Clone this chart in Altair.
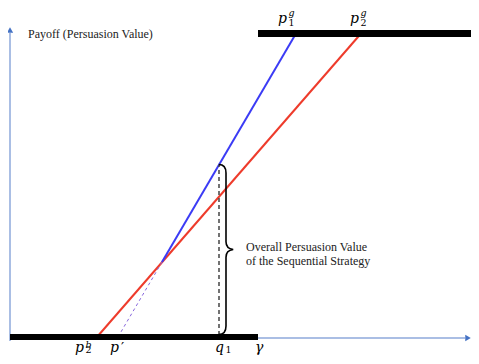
import altair as alt
import pandas as pd

# ---- data (x: gamma units from the vertical axis, y: payoff units from the bottom bar)
low_bar_x = [0, 248]
low_bar_y = [0, 0]
high_bar_x = [248, 462]
high_bar_y = [303.5, 303.5]
red_x = [87, 351]
red_y = [0, 303.5]
blue_x = [152, 286]
blue_y = [75, 303.5]
blue_dash_x = [108, 152]
blue_dash_y = [0, 75]
q1_x = [209, 209]
q1_y = [2, 172]
yaxis_x = [0, 0]
yaxis_y = [-4, 304]
xaxis_x = [0, 455]
xaxis_y = [-1, -1]
brace_x = [216]
brace_y = [87.5]

label_base = ["p", "p", "q", "γ", "p", "p"]
label_sub = ["2", "", "1", "", "1", "2"]
label_sup = ["b", "", "", "", "g", "g"]
label_x = [65, 100, 205, 245, 268, 340]
label_y = [-15, -15, -15, -15, 314, 314]
label_supdy = [-4, -4, -4, -4, -7, -7]
label_subdy = [1, 1, 1, 1, 3, 3]
prime_x = [111]
prime_y = [-15]

notes = ["Payoff (Persuasion Value)", "Overall Persuasion Value", "of the Sequential Strategy"]
notes_x = [18, 236, 236]
notes_y = [303, 90, 76]

W, H = 463, 348
xs = alt.Scale(domain=[-2, 461])
ys = alt.Scale(domain=[-19, 329])


def seg(xv, yv):
    return pd.DataFrame({"x": xv, "y": yv})


def enc(ch):
    return ch.encode(
        x=alt.X("x:Q", scale=xs, axis=None),
        y=alt.Y("y:Q", scale=ys, axis=None),
    )


yaxis = enc(alt.Chart(seg(yaxis_x, yaxis_y)).mark_line(color="#8EA9DB", strokeWidth=1.5))
xaxis = enc(alt.Chart(seg(xaxis_x, xaxis_y)).mark_line(color="#8EA9DB", strokeWidth=1.5))
yhead = enc(alt.Chart(seg([0], [307])).mark_point(shape="triangle-up", size=40, filled=True,
                                                  color="#4472C4", opacity=1))
xhead = enc(alt.Chart(seg([458], [-1])).mark_point(shape="triangle-right", size=40, filled=True,
                                                   color="#4472C4", opacity=1))

red = enc(alt.Chart(seg(red_x, red_y)).mark_line(color="#EE3B2B", strokeWidth=2))
blue = enc(alt.Chart(seg(blue_x, blue_y)).mark_line(color="#3B3BF5", strokeWidth=2))
blue_dash = enc(alt.Chart(seg(blue_dash_x, blue_dash_y)).mark_line(
    color="#8866DD", strokeWidth=1, strokeDash=[3, 3]))
q1line = enc(alt.Chart(seg(q1_x, q1_y)).mark_line(
    color="#444444", strokeWidth=1.5, strokeDash=[4, 3]))

low_bar = enc(alt.Chart(seg(low_bar_x, low_bar_y)).mark_line(color="black", strokeWidth=6))
high_bar = enc(alt.Chart(seg(high_bar_x, high_bar_y)).mark_line(color="black", strokeWidth=7))

brace_path = ("M -0.085 -1 Q 0 -1 0 -0.9 L 0 -0.09 Q 0 -0.01 0.085 0 "
              "Q 0 0.01 0 0.09 L 0 0.9 Q 0 1 -0.085 1")
brace = enc(alt.Chart(seg(brace_x, brace_y)).mark_point(
    shape=brace_path, size=28900, filled=False, color="black", strokeWidth=1.6, opacity=1))

labels = pd.DataFrame({"x": label_x, "y": label_y, "base": label_base,
                       "sub": label_sub, "sup": label_sup,
                       "supdy": label_supdy, "subdy": label_subdy})
base_t = enc(alt.Chart(labels).mark_text(
    font="DejaVu Serif", fontStyle="italic", fontSize=14, align="left",
    baseline="alphabetic", color="black")).encode(text="base:N")


def small_layer(field, dyfield, italic):
    parts = []
    for dyv in sorted(set(labels[dyfield])):
        sub_df = labels[labels[dyfield] == dyv]
        kw = dict(font="DejaVu Serif", fontSize=9.5, align="left",
                  baseline="alphabetic", dx=10.5, dy=int(dyv), color="black")
        if italic:
            kw["fontStyle"] = "italic"
        parts.append(enc(alt.Chart(sub_df).mark_text(**kw)).encode(text=f"{field}:N"))
    return parts


sub_layers = small_layer("sub", "subdy", False)
sup_layers = small_layer("sup", "supdy", True)

prime_t = enc(alt.Chart(seg(prime_x, prime_y)).mark_text(
    text="\u2032", font="DejaVu Sans", fontSize=14, align="left",
    baseline="alphabetic", color="black"))

nt = pd.DataFrame({"x": notes_x, "y": notes_y, "t": notes})
notes_t = enc(alt.Chart(nt).mark_text(
    font="Liberation Serif", fontSize=12, align="left", baseline="middle",
    color="#222222")).encode(text="t:N")

chart = alt.layer(
    yaxis, xaxis, yhead, xhead, red, blue, blue_dash, q1line, brace,
    low_bar, high_bar, base_t, *sub_layers, *sup_layers, prime_t, notes_t
).properties(
    width=W, height=H, padding=0, background="white",
    autosize=alt.AutoSizeParams(type="none"),
).configure_view(stroke=None)

chart.save("out.html", embed_options={"renderer": "svg", "actions": False})
